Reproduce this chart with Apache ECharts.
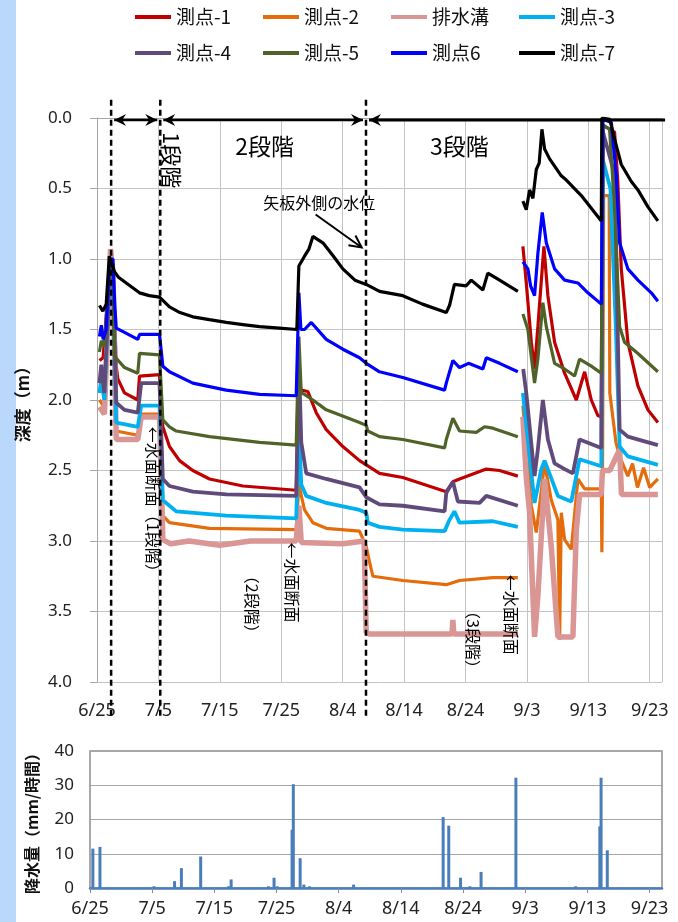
<!DOCTYPE html>
<html><head><meta charset="utf-8">
<script src="https://cdn.jsdelivr.net/npm/echarts@6/dist/echarts.min.js"></script>
<style>html,body{margin:0;padding:0;background:#fff}#c{width:678px;height:922px}</style>
</head><body><div id="c"></div><script>
// ---- tick labels (days from 6/25) ----
const tickLabels = ['6/25','7/5','7/15','7/25','8/4','8/14','8/24','9/3','9/13','9/23'];
const seriesNames = ['測点-1','測点-2','排水溝','測点-3','測点-4','測点-5','測点6','測点-7'];
// ---- depth series: [day since 6/25, depth m] ; '-' = data gap ----
const p1 = [[0.4,1.72],[1.0,1.70],[2.0,1.1],[2.2,1.0],[2.6,1.05],[3.13,1.76],[3.39,1.85],[4.48,1.95],[6.64,2.0],[6.92,1.83],[10.18,1.82],[10.72,2.19],[11.8,2.33],[13.44,2.43],[15.6,2.50],[18.32,2.56],[23.75,2.61],[32.44,2.64],[32.87,1.93],[33.26,1.93],[34.33,1.94],[35.7,2.09],[37.33,2.21],[40.03,2.33],[42.75,2.43],[43.84,2.46],[46.0,2.52],[49.8,2.55],[56.87,2.65],[57.95,2.58],[59.03,2.56],[63.39,2.49],[65.55,2.50],[68.53,2.54],[68.9,'-'],[69.35,0.91],[69.9,1.17],[70.72,1.59],[71.25,1.78],[71.79,1.48],[72.77,0.91],[73.42,1.26],[74.51,1.59],[76.14,1.81],[78.05,2.0],[79.4,1.80],[80.49,2.0],[81.56,2.11],[82.12,2.12],[82.38,0.05],[84.28,0.1],[84.8,0.45],[85.37,1.07],[86.44,1.59],[88.08,1.90],[89.71,2.07],[91.33,2.16]];
const p2 = [[0.4,2.0],[1.2,2.05],[2.0,1.2],[2.2,1.05],[2.6,1.15],[3.13,2.22],[6.64,2.25],[7.2,2.1],[10.18,2.1],[10.72,2.82],[11.8,2.87],[18.32,2.91],[32.44,2.92],[32.87,2.6],[33.79,2.78],[35.15,2.87],[37.33,2.91],[42.75,2.93],[43.84,3.04],[44.38,3.15],[44.92,3.25],[49.8,3.28],[56.87,3.31],[59.03,3.28],[64.46,3.26],[68.53,3.26],[68.9,'-'],[69.35,2.04],[70.72,2.75],[71.53,2.94],[72.88,2.45],[73.97,2.71],[75.05,2.85],[75.33,3.70],[75.6,2.80],[76.14,2.99],[77.23,3.06],[78.31,2.56],[79.4,2.63],[82.12,2.63],[82.21,3.08],[82.3,2.63],[82.5,0.55],[83.4,0.55],[83.5,1.95],[84.5,2.3],[85.1,2.40],[86.44,2.54],[87.2,2.45],[88.0,2.62],[89.0,2.48],[90.0,2.62],[91.33,2.56]];
const pDrain = [[0.4,2.05],[1.2,2.1],[2.0,1.2],[2.2,0.93],[2.6,1.1],[3.13,2.28],[6.64,2.28],[7.2,2.12],[10.18,2.12],[10.72,2.99],[12.0,3.02],[15.0,3.0],[20.0,3.03],[25.0,3.0],[32.44,3.0],[32.87,2.75],[33.26,3.01],[40.0,3.02],[43.5,3.0],[43.84,3.65],[44.38,3.66],[57.8,3.66],[57.95,3.56],[58.1,3.66],[68.53,3.66],[68.9,'-'],[69.35,2.12],[69.9,2.55],[70.44,2.80],[71.25,3.68],[71.79,3.39],[72.88,2.56],[73.97,3.04],[75.05,3.68],[77.49,3.68],[78.05,2.92],[78.58,2.67],[82.12,2.67],[82.3,2.5],[83.5,2.5],[85.1,2.35],[85.4,2.67],[91.33,2.67]];
const p3 = [[0.4,1.95],[0.7,1.85],[1.2,2.0],[2.0,1.2],[2.2,1.05],[2.6,1.15],[3.13,2.16],[6.64,2.19],[7.2,2.04],[10.18,2.04],[10.72,2.71],[11.8,2.75],[12.9,2.79],[21.04,2.82],[32.44,2.84],[32.87,2.2],[33.26,2.6],[34.07,2.68],[37.33,2.73],[42.75,2.78],[43.84,2.80],[44.1,2.87],[46.0,2.90],[49.8,2.92],[56.6,2.93],[57.4,2.85],[58.2,2.79],[59.03,2.87],[64.46,2.86],[68.53,2.90],[68.9,'-'],[69.35,1.95],[71.25,2.73],[72.34,2.49],[72.88,2.43],[75.05,2.68],[77.23,2.72],[78.58,2.42],[82.12,2.47],[82.38,0.3],[83.6,0.5],[84.5,1.5],[85.1,2.33],[86.44,2.40],[91.33,2.46]];
const p4 = [[0.4,1.88],[0.7,1.75],[1.2,1.95],[2.0,1.15],[2.2,1.0],[2.6,1.1],[3.13,2.02],[4.48,2.07],[6.64,2.09],[7.2,1.88],[10.18,1.88],[10.72,2.56],[11.8,2.61],[15.6,2.65],[21.04,2.67],[32.44,2.68],[32.87,1.7],[33.26,2.3],[34.07,2.52],[37.33,2.56],[42.75,2.62],[43.84,2.69],[46.0,2.74],[49.8,2.75],[56.6,2.79],[56.87,2.66],[57.95,2.58],[58.76,2.72],[62.3,2.73],[63.39,2.68],[68.53,2.75],[68.9,'-'],[69.4,1.78],[69.9,1.95],[71.25,2.54],[71.79,2.35],[72.6,2.0],[73.42,2.28],[74.51,2.45],[76.14,2.49],[77.49,2.52],[78.58,2.28],[82.12,2.34],[82.38,0.1],[84.3,0.4],[85.1,2.21],[86.44,2.26],[91.33,2.32]];
const p5 = [[0.4,1.66],[0.7,1.58],[1.2,1.62],[2.0,1.1],[2.2,1.0],[2.6,1.05],[2.85,1.69],[4.48,1.77],[6.64,1.81],[6.92,1.67],[10.18,1.68],[10.72,2.14],[11.8,2.19],[12.9,2.22],[18.32,2.26],[26.47,2.30],[32.44,2.32],[32.87,1.55],[33.26,1.95],[33.79,1.96],[35.15,2.0],[37.33,2.07],[42.75,2.16],[43.84,2.18],[44.1,2.22],[46.0,2.26],[49.8,2.28],[56.6,2.34],[56.87,2.28],[57.95,2.13],[59.03,2.22],[61.76,2.23],[63.1,2.19],[64.46,2.20],[68.53,2.26],[68.9,'-'],[69.35,1.39],[70.16,1.50],[71.25,1.88],[71.79,1.71],[72.6,1.31],[73.16,1.48],[74.51,1.74],[76.14,1.78],[77.77,1.83],[78.58,1.71],[80.49,1.76],[82.12,1.81],[82.38,0.05],[83.47,0.08],[84.28,0.65],[85.1,1.48],[85.9,1.59],[88.08,1.67],[91.33,1.80]];
const p6 = [[0.4,1.55],[0.7,1.47],[1.0,1.57],[1.5,1.50],[2.0,1.05],[2.2,1.0],[2.6,1.0],[2.9,1.33],[3.13,1.49],[4.48,1.52],[6.64,1.57],[6.92,1.535],[10.18,1.535],[10.72,1.76],[11.8,1.80],[15.6,1.88],[21.04,1.93],[26.47,1.96],[32.44,1.97],[32.87,1.24],[33.2,1.5],[33.79,1.50],[34.89,1.45],[37.33,1.57],[40.03,1.64],[42.75,1.70],[43.84,1.74],[46.0,1.80],[49.8,1.84],[56.6,1.93],[56.87,1.88],[57.95,1.72],[59.03,1.77],[60.5,1.74],[62.83,1.78],[63.39,1.70],[65.55,1.74],[68.53,1.80],[68.9,'-'],[69.35,1.02],[70.16,1.07],[70.6,1.19],[71.25,1.26],[71.79,0.96],[72.5,0.67],[73.16,0.885],[74.51,1.07],[76.14,1.15],[78.3,1.17],[79.93,1.24],[82.12,1.32],[82.38,0.01],[83.74,0.03],[84.56,0.41],[85.1,0.885],[86.44,1.07],[88.08,1.15],[90.26,1.24],[91.33,1.30]];
const p7 = [[0.4,1.33],[0.95,1.37],[1.5,1.32],[2.0,0.98],[2.2,0.97],[2.85,1.09],[3.5,1.13],[4.76,1.17],[6.92,1.24],[8.5,1.26],[10.18,1.27],[11.8,1.34],[13.5,1.38],[15.6,1.41],[18.3,1.43],[21.04,1.45],[23.75,1.465],[26.47,1.48],[29.7,1.49],[32.54,1.50],[32.87,1.05],[33.79,0.98],[34.5,0.93],[35.15,0.84],[36.78,0.885],[38.5,0.98],[40.03,1.07],[42.0,1.15],[43.84,1.18],[46.0,1.23],[49.8,1.26],[53.0,1.32],[56.87,1.38],[57.4,1.33],[58.2,1.18],[60.13,1.19],[60.94,1.15],[62.83,1.22],[63.64,1.10],[65.55,1.15],[68.53,1.23],[68.9,'-'],[69.35,0.59],[69.9,0.65],[70.44,0.51],[70.98,0.57],[71.53,0.365],[72.0,0.32],[72.45,0.08],[72.88,0.22],[73.7,0.29],[75.6,0.41],[76.42,0.44],[78.86,0.55],[82.12,0.73],[82.2,0.0],[83.5,0.01],[84.28,0.15],[85.37,0.33],[87.0,0.45],[88.08,0.51],[89.71,0.63],[91.33,0.73]];
// ---- rainfall (mm/hour) ----
const rainDays = [0.46,1.6,10.3,13.6,14.7,17.8,22.3,22.7,28.7,29.6,30.1,32.5,32.7,33.8,34.4,35.3,42.4,56.8,57.7,59.6,61.1,62.9,68.5,78.1,82.0,82.2,83.2];
const rainMM   = [11.5,12,0.5,2,5.8,9.2,0.5,2.5,0.5,3,0.5,17,30.3,8.7,1,0.5,1,20.7,18.2,3,0.5,4.7,32.2,0.5,18,32.2,11];
// ---- annotation anchors (day, depth) ----
const stageDays = [2.3, 10.3, 43.8];
const stageTexts = [['1段階',12.1,0.1],['2段階',27.3,0.2],['3段階',59.0,0.2]];
const wallText = ['矢板外側の水位',36.2,0.6];
const wallArrow = [[35.6,0.684],[43.1,0.918]];
const cutTexts = [['←水面断面（1段階）',9.1,2.19],['←水面断面',31.7,3.01],['（2段階）',25.2,3.19],['←水面断面',67.5,3.24],['（3段階）',61.2,3.44]];

const colors = ['#c00000','#e46c0a','#d99694','#00b0f0','#604a7b','#4f6228','#0000ff','#000000'];
const widths = [3.2,3.2,5.5,3.8,3.8,3.2,3.2,3.2];
const depthData = [p1,p2,pDrain,p3,p4,p5,p6,p7];

const chart = echarts.init(document.getElementById('c'));
const FONT = '"Noto Sans", "Noto Sans CJK JP", sans-serif';
const CJK = '"Noto Sans CJK JP", sans-serif';

const series = depthData.map((d,i)=>({
  name: seriesNames[i], type:'line', xAxisIndex:0, yAxisIndex:0, data:d,
  symbol:'none', showSymbol:false, connectNulls:false,
  lineStyle:{color:colors[i], width:widths[i]}, itemStyle:{color:colors[i]}, z:2+i
}));
series.push({
  name:'降水量', type:'bar', xAxisIndex:1, yAxisIndex:1,
  data: rainDays.map((d,i)=>[d, rainMM[i]]), barWidth:3,
  itemStyle:{color:'#4a7ebb'}
});

const legendCommon = {
  icon:'rect', itemWidth:36, itemHeight:4, itemGap:21, padding:0,
  textStyle:{fontFamily:CJK, fontSize:19, color:'#111', width:66, overflow:'none', lineHeight:22},
  orient:'horizontal', left:135
};

chart.setOption({
  animation:false,
  backgroundColor:'#ffffff',
  legend:[
    Object.assign({}, legendCommon, {top:6, data:seriesNames.slice(0,4)}),
    Object.assign({}, legendCommon, {top:42, data:seriesNames.slice(4,8)})
  ],
  grid:[
    {left:97, top:118, width:565, height:564},
    {left:90, top:751, width:572, height:137, show:true, borderColor:'#8c8c8c', borderWidth:1.5}
  ],
  xAxis:[
    {type:'value', gridIndex:0, min:0, max:92, interval:10,
     axisLine:{show:true, lineStyle:{color:'#a6a6a6'}}, axisTick:{show:false},
     splitLine:{show:true, lineStyle:{color:'#c4c4c4', width:1}},
     axisLabel:{margin:20, fontSize:18, fontFamily:FONT, color:'#222',
       formatter:v=>tickLabels[Math.round(v/10)]||'', showMaxLabel:false}},
    {type:'value', gridIndex:1, min:0, max:92, interval:10,
     axisLine:{show:true, onZero:false, lineStyle:{color:'#4a7ebb', width:2.5}},
     axisTick:{show:true, length:5, lineStyle:{color:'#8c8c8c'}},
     splitLine:{show:false},
     axisLabel:{margin:12, fontSize:18, fontFamily:FONT, color:'#222',
       formatter:v=>tickLabels[Math.round(v/10)]||'', showMaxLabel:false}}
  ],
  yAxis:[
    {type:'value', gridIndex:0, min:0, max:4, interval:0.5, inverse:true,
     name:'深度（m）', nameLocation:'middle', nameGap:66, nameRotate:90,
     nameTextStyle:{fontFamily:CJK, fontSize:17, fontWeight:'bold', color:'#111'},
     axisLine:{show:true, lineStyle:{color:'#a6a6a6'}},
     axisTick:{show:true, length:7, lineStyle:{color:'#a6a6a6'}},
     splitLine:{show:true, lineStyle:{color:'#c4c4c4', width:1}},
     axisLabel:{margin:25, fontSize:17, fontFamily:FONT, color:'#222', formatter:v=>v.toFixed(1)}},
    {type:'value', gridIndex:1, min:0, max:40, interval:10,
     name:'降水量（mm/時間）', nameLocation:'middle', nameGap:50, nameRotate:90,
     nameTextStyle:{fontFamily:CJK, fontSize:16, fontWeight:'bold', color:'#111'},
     axisLine:{show:false}, axisTick:{show:false},
     splitLine:{show:true, lineStyle:{color:'#a6a6a6', width:1}},
     axisLabel:{margin:16, fontSize:17, fontFamily:FONT, color:'#222'}}
  ],
  series: series
});

// ---- annotations positioned through the axis scales ----
const px = (d, z) => chart.convertToPixel({xAxisIndex:0, yAxisIndex:0}, [d, z]);
const g = [];
g.push({type:'rect', shape:{x:0,y:0,width:16,height:922}, style:{fill:'#b9d8fb'}, z:0});
stageDays.forEach(d=>{
  const a = px(d,-0.13), b = px(d,4.24);
  g.push({type:'line', shape:{x1:a[0],y1:a[1],x2:b[0],y2:b[1]},
    style:{stroke:'#000', lineWidth:2.5, lineDash:[6,4]}, z:100});
});
function head(x, y, ang){ // arrowhead pointing at (x,y), direction ang (radians)
  const L=12, W=6, c=Math.cos(ang), s=Math.sin(ang);
  const bx = x - L*c, by = y - L*s;
  const mx = x - 8*c, my = y - 8*s;
  return {type:'polygon', shape:{points:[[x,y],[bx - W*s, by + W*c],[mx,my],[bx + W*s, by - W*c]]},
    style:{fill:'#000'}, z:101};
}
const arrowDepth = 0.015;
const segs = [[stageDays[0],stageDays[1],true],[stageDays[1],stageDays[2],true],[stageDays[2],92.5,false]];
segs.forEach(([d1,d2,both])=>{
  const a = px(d1,arrowDepth), b = px(d2,arrowDepth);
  const x1 = a[0]+3, x2 = both ? b[0]-3 : b[0];
  g.push({type:'line', shape:{x1:x1,y1:a[1],x2:x2,y2:b[1]}, style:{stroke:'#000', lineWidth:both?2.5:3}, z:101});
  g.push(head(x1, a[1], Math.PI));
  if(both) g.push(head(x2, b[1], 0));
});
stageTexts.forEach(([t,d,z],i)=>{
  const p = px(d,z);
  if(i===0){
    g.push({type:'text', x:p[0], y:p[1], rotation:-Math.PI/2,
      style:{text:t, fontFamily:CJK, fontSize:22, fill:'#000', align:'left', verticalAlign:'middle'}, z:102});
  } else {
    g.push({type:'text', x:p[0], y:p[1], style:{text:t, fontFamily:CJK, fontSize:23, fill:'#000', align:'center', verticalAlign:'middle'}, z:102});
  }
});
{
  const p = px(wallText[1], wallText[2]);
  g.push({type:'text', x:p[0], y:p[1], style:{text:wallText[0], fontFamily:CJK, fontSize:16, fill:'#000', align:'center', verticalAlign:'middle'}, z:102});
  const a = px(wallArrow[0][0], wallArrow[0][1]), b = px(wallArrow[1][0], wallArrow[1][1]);
  g.push({type:'line', shape:{x1:a[0],y1:a[1],x2:b[0],y2:b[1]}, style:{stroke:'#000', lineWidth:2}, z:102});
  const ang = Math.atan2(b[1]-a[1], b[0]-a[0]);
  const c=Math.cos(ang), s=Math.sin(ang);
  const bx=b[0]-12*c, by=b[1]-12*s;
  g.push({type:'polyline', shape:{points:[[bx-6*s,by+6*c],[b[0],b[1]],[bx+6*s,by-6*c]]}, style:{stroke:'#000', lineWidth:2, fill:null}, z:102});
}
cutTexts.forEach(([t,d,z])=>{
  const p = px(d,z);
  g.push({type:'text', x:p[0], y:p[1], rotation:-Math.PI/2,
    style:{text:t, fontFamily:CJK, fontSize:16, fill:'#000', align:'left', verticalAlign:'middle'}, z:102});
});
chart.setOption({graphic:g});
</script></body></html>
